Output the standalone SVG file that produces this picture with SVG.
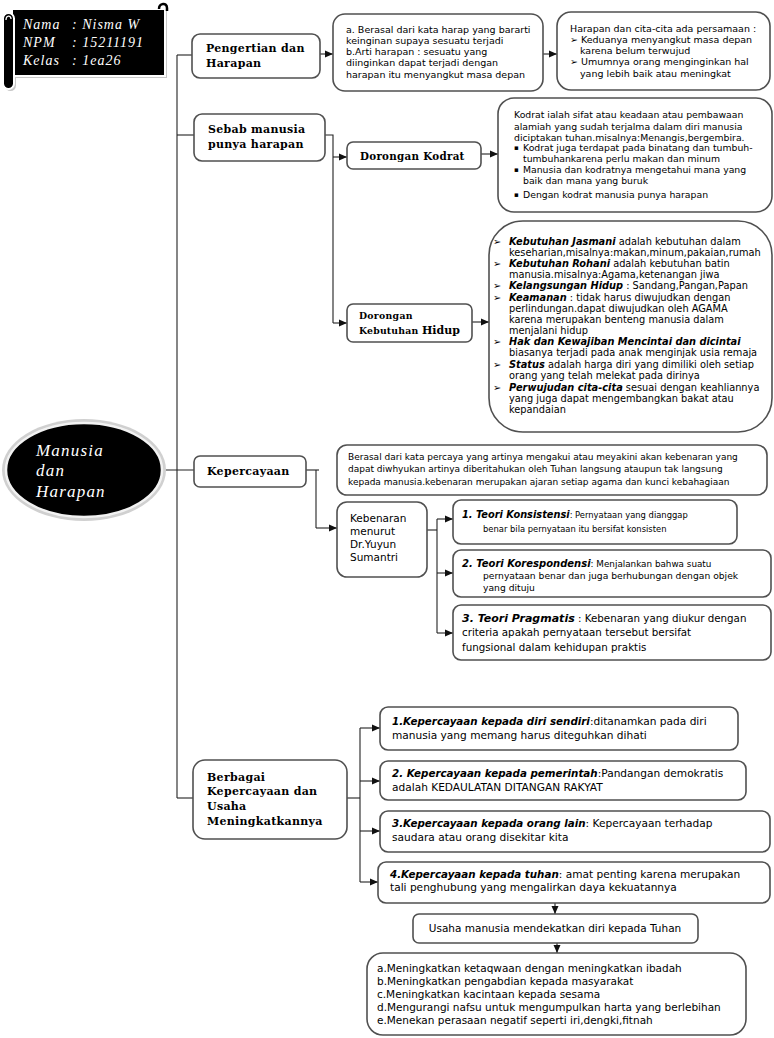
<svg xmlns="http://www.w3.org/2000/svg" width="774" height="1038" viewBox="0 0 774 1038">
<defs>
<style>
.box{fill:#fff;stroke:#505050;stroke-width:1.6}
.ln{fill:none;stroke:#222;stroke-width:1.1}
.ar{fill:none;stroke:#222;stroke-width:1.1;marker-end:url(#ah)}
.hd{font-family:"DejaVu Serif",serif;font-weight:bold;font-size:11px;letter-spacing:0.3px;fill:#000}
.t{font-family:"DejaVu Sans",sans-serif;fill:#000}
.bi{font-weight:bold;font-style:italic}
.sc{font-family:"Liberation Serif",serif;font-style:italic;fill:#fff}
</style>
<marker id="ah" viewBox="0 0 8 8" refX="8" refY="4" markerWidth="8" markerHeight="8" markerUnits="userSpaceOnUse" orient="auto"><path d="M0,0.5 L8,4 L0,7.5 z" fill="#111"/></marker>
</defs>
<rect width="774" height="1038" fill="#fff"/>

<g id="connectors">
<path class="ln" d="M177,55 V798"/>
<path class="ln" d="M160,470 H194"/>
<path class="ln" d="M177,55 H192"/>
<path class="ln" d="M177,135 H194"/>
<path class="ln" d="M177,798 H193"/>
<path class="ar" d="M320,54 H333"/>
<path class="ar" d="M543,54 H557"/>
<path class="ln" d="M325,135 H333 V323"/>
<path class="ar" d="M333,157 H347"/>
<path class="ar" d="M333,323 H347"/>
<path class="ar" d="M481,154 H498"/>
<path class="ar" d="M472,322 H489"/>
<path class="ln" d="M306,470 H319"/>
<path class="ln" d="M316,470 V528"/>
<path class="ar" d="M316,528 H337"/>
<path class="ln" d="M427,530 H437"/>
<path class="ln" d="M437,519 V633"/>
<path class="ar" d="M437,519 H453"/>
<path class="ar" d="M437,573 H453"/>
<path class="ar" d="M437,633 H453"/>
<path class="ln" d="M347,798 H360"/>
<path class="ln" d="M360,728 V882"/>
<path class="ar" d="M360,728 H380"/>
<path class="ar" d="M360,781 H380"/>
<path class="ar" d="M360,831 H380"/>
<path class="ar" d="M360,882 H378"/>
<path class="ar" d="M555,903 V914"/>
<path class="ar" d="M557,943 V953"/>
</g>

<g id="name-card">
<rect x="14" y="11" width="153" height="67" fill="#c8c8c8"/>
<rect x="5" y="15" width="11" height="76" rx="5.5" fill="#c8c8c8"/>
<rect x="12" y="9" width="153" height="67" fill="#000" stroke="#fff" stroke-width="2"/>
<path d="M159,9 C159,3 167,2 167,8 L167,11" fill="none" stroke="#000" stroke-width="2.5"/>
<rect x="3" y="13" width="11" height="76" rx="5.5" fill="#000" stroke="#fff" stroke-width="2"/>
<path d="M6,20 C6,15 11,15 11,19" fill="none" stroke="#fff" stroke-width="1.3"/>
<text class="sc" font-size="14" letter-spacing="1" x="23" y="29">Nama</text>
<text class="sc" font-size="14" letter-spacing="1" x="72" y="29">: Nisma W</text>
<text class="sc" font-size="14" letter-spacing="1" x="23" y="47">NPM</text>
<text class="sc" font-size="14" letter-spacing="1" x="72" y="47">: 15211191</text>
<text class="sc" font-size="14" letter-spacing="1" x="23" y="65">Kelas</text>
<text class="sc" font-size="14" letter-spacing="1" x="72" y="65">: 1ea26</text>
</g>

<g id="root">
<ellipse cx="84" cy="470" rx="82" ry="51" fill="#d0d0d0"/>
<ellipse cx="84" cy="470" rx="78" ry="47" fill="#000" stroke="#f2f2f2" stroke-width="2.5"/>
<text class="sc" font-size="17" letter-spacing="1.2" x="36" y="456">Manusia</text>
<text class="sc" font-size="17" letter-spacing="1.2" x="36" y="476">dan</text>
<text class="sc" font-size="17" letter-spacing="1.2" x="36" y="497">Harapan</text>
</g>

<g id="pengertian">
<rect class="box" x="192" y="34" width="128" height="44" rx="8"/>
<text class="hd" x="206" y="52">Pengertian dan</text>
<text class="hd" x="206" y="67">Harapan</text>
</g>

<g id="pengertian-a">
<rect class="box" x="333" y="14" width="210" height="77" rx="12"/>
<text class="t" font-size="9.5" x="346" y="33">a. Berasal dari kata harap yang bararti</text>
<text class="t" font-size="9.5" x="346" y="44">keinginan supaya sesuatu terjadi</text>
<text class="t" font-size="9.5" x="346" y="55">b.Arti harapan : sesuatu yang</text>
<text class="t" font-size="9.5" x="346" y="66">diinginkan dapat terjadi dengan</text>
<text class="t" font-size="9.5" x="346" y="78">harapan itu menyangkut masa depan</text>
</g>

<g id="pengertian-b">
<rect class="box" x="557" y="12" width="213" height="78" rx="14"/>
<text class="t" font-size="9.5" x="570" y="32">Harapan dan cita-cita ada persamaan :</text>
<text class="t" font-size="9.5" x="570" y="43">➢ Keduanya menyangkut masa depan</text>
<text class="t" font-size="9.5" x="580" y="54">karena belum terwujud</text>
<text class="t" font-size="9.5" x="570" y="65">➢ Umumnya orang menginginkan hal</text>
<text class="t" font-size="9.5" x="580" y="77">yang lebih baik atau meningkat</text>
</g>

<g id="sebab">
<rect class="box" x="194" y="114" width="131" height="47" rx="8"/>
<text class="hd" x="208" y="133">Sebab manusia</text>
<text class="hd" x="208" y="148">punya harapan</text>
</g>

<g id="dorongan-kodrat">
<rect class="box" x="347" y="142" width="134" height="27" rx="6"/>
<text class="hd" style="font-size:10.3px" x="360" y="160">Dorongan Kodrat</text>
</g>

<g id="kodrat">
<rect class="box" x="498" y="98" width="274" height="114" rx="16"/>
<text class="t" font-size="9.3" x="514" y="118">Kodrat ialah sifat atau keadaan atau pembawaan</text>
<text class="t" font-size="9.3" x="514" y="130">alamiah yang sudah terjalma dalam diri manusia</text>
<text class="t" font-size="9.3" x="514" y="141">diciptakan tuhan.misalnya:Menangis,bergembira.</text>
<text class="t" font-size="7" x="514" y="150">▪</text>
<text class="t" font-size="9.3" x="523" y="151">Kodrat juga terdapat pada binatang dan tumbuh-</text>
<text class="t" font-size="9.3" x="523" y="162">tumbuhankarena perlu makan dan minum</text>
<text class="t" font-size="7" x="514" y="172">▪</text>
<text class="t" font-size="9.3" x="523" y="173">Manusia dan kodratnya mengetahui mana yang</text>
<text class="t" font-size="9.3" x="523" y="184">baik dan mana yang buruk</text>
<text class="t" font-size="7" x="514" y="197">▪</text>
<text class="t" font-size="9.3" x="523" y="198">Dengan kodrat manusia punya harapan</text>
</g>

<g id="dorongan-kebutuhan">
<rect class="box" x="347" y="304" width="125" height="38" rx="6"/>
<text class="hd" style="font-size:9.3px" x="359" y="319">Dorongan</text>
<text class="hd" style="font-size:9.3px;letter-spacing:0.2px" x="359" y="334">Kebutuhan <tspan style="font-size:11px;letter-spacing:0">Hidup</tspan></text>
</g>

<g id="kebutuhan">
<rect class="box" x="489" y="221" width="283" height="211" rx="34"/>
<g class="t" font-size="9.8">
<text x="493" y="245">➢</text><text x="509" y="245"><tspan class="bi">Kebutuhan Jasmani</tspan> adalah kebutuhan dalam</text>
<text x="509" y="256">keseharian,misalnya:makan,minum,pakaian,rumah</text>
<text x="493" y="267">➢</text><text x="509" y="267"><tspan class="bi">Kebutuhan Rohani</tspan> adalah kebutuhan batin</text>
<text x="509" y="278">manusia.misalnya:Agama,ketenangan jiwa</text>
<text x="493" y="289">➢</text><text x="509" y="289"><tspan class="bi">Kelangsungan Hidup</tspan> : Sandang,Pangan,Papan</text>
<text x="493" y="301">➢</text><text x="509" y="301"><tspan class="bi">Keamanan</tspan> : tidak harus diwujudkan dengan</text>
<text x="509" y="312">perlindungan.dapat diwujudkan oleh AGAMA</text>
<text x="509" y="323">karena merupakan benteng manusia dalam</text>
<text x="509" y="334">menjalani hidup</text>
<text x="493" y="345">➢</text><text x="509" y="345"><tspan class="bi">Hak dan Kewajiban Mencintai dan dicintai</tspan></text>
<text x="509" y="356">biasanya terjadi pada anak menginjak usia remaja</text>
<text x="493" y="368">➢</text><text x="509" y="368"><tspan class="bi">Status</tspan> adalah harga diri yang dimiliki oleh setiap</text>
<text x="509" y="379">orang yang telah melekat pada dirinya</text>
<text x="493" y="391">➢</text><text x="509" y="391"><tspan class="bi">Perwujudan cita-cita</tspan> sesuai dengan keahliannya</text>
<text x="509" y="402">yang juga dapat mengembangkan bakat atau</text>
<text x="509" y="413">kepandaian</text>
</g>
</g>

<g id="kepercayaan">
<rect class="box" x="194" y="456" width="112" height="31" rx="6"/>
<text class="hd" x="207" y="475">Kepercayaan</text>
</g>

<g id="kepercayaan-desc">
<rect class="box" x="337" y="445" width="430" height="50" rx="10"/>
<text class="t" font-size="9" x="348" y="460">Berasal dari kata percaya yang artinya mengakui atau meyakini akan kebenaran yang</text>
<text class="t" font-size="9" x="348" y="472">dapat diwhyukan artinya diberitahukan oleh Tuhan langsung ataupun tak langsung</text>
<text class="t" font-size="9" x="348" y="485">kepada manusia.kebenaran merupakan ajaran setiap agama dan kunci kebahagiaan</text>
</g>

<g id="kebenaran">
<rect class="box" x="337" y="502" width="90" height="75" rx="10"/>
<text class="t" font-size="10.5" x="350" y="522">Kebenaran</text>
<text class="t" font-size="10.5" x="350" y="535">menurut</text>
<text class="t" font-size="10.5" x="350" y="548">Dr.Yuyun</text>
<text class="t" font-size="10.5" x="350" y="561">Sumantri</text>
</g>

<g id="teori-1">
<rect class="box" x="453" y="500" width="284" height="44" rx="8"/>
<text class="t" x="462" y="518"><tspan class="bi" font-size="9.8">1. Teori Konsistensi</tspan><tspan font-size="8.4">: Pernyataan yang dianggap</tspan></text>
<text class="t" font-size="8.4" x="483" y="532">benar bila pernyataan itu bersifat konsisten</text>
</g>

<g id="teori-2">
<rect class="box" x="453" y="550" width="318" height="47" rx="8"/>
<text class="t" x="462" y="567"><tspan class="bi" font-size="10">2. Teori Korespondensi</tspan><tspan font-size="8.8">: Menjalankan bahwa suatu</tspan></text>
<text class="t" font-size="9.2" x="483" y="579">pernyataan benar dan juga berhubungan dengan objek</text>
<text class="t" font-size="9.2" x="483" y="591">yang dituju</text>
</g>

<g id="teori-3">
<rect class="box" x="453" y="605" width="318" height="55" rx="8"/>
<text class="t" x="462" y="622"><tspan class="bi" font-size="11">3. Teori Pragmatis</tspan><tspan font-size="10.3"> : Kebenaran yang diukur dengan</tspan></text>
<text class="t" font-size="10.3" x="462" y="636">criteria apakah pernyataan tersebut bersifat</text>
<text class="t" font-size="10.3" x="462" y="651">fungsional dalam kehidupan praktis</text>
</g>

<g id="berbagai">
<rect class="box" x="193" y="760" width="154" height="79" rx="12"/>
<text class="hd" x="207" y="781">Berbagai</text>
<text class="hd" x="207" y="795">Kepercayaan dan</text>
<text class="hd" x="207" y="810">Usaha</text>
<text class="hd" x="207" y="825">Meningkatkannya</text>
</g>

<g id="k1">
<rect class="box" x="380" y="707" width="358" height="43" rx="8"/>
<text class="t" font-size="10.6" x="392" y="725"><tspan class="bi" font-size="10.3">1.Kepercayaan kepada diri sendiri</tspan>:ditanamkan pada diri</text>
<text class="t" font-size="10.6" x="392" y="739">manusia yang memang harus diteguhkan dihati</text>
</g>

<g id="k2">
<rect class="box" x="380" y="761" width="366" height="39" rx="8"/>
<text class="t" font-size="10.6" x="392" y="777"><tspan class="bi" font-size="10.3">2. Kepercayaan kepada pemerintah</tspan>:Pandangan demokratis</text>
<text class="t" font-size="10.6" x="392" y="791">adalah KEDAULATAN DITANGAN RAKYAT</text>
</g>

<g id="k3">
<rect class="box" x="380" y="811" width="390" height="41" rx="8"/>
<text class="t" font-size="10.6" x="392" y="827"><tspan class="bi" font-size="10.3">3.Kepercayaan kepada orang lain</tspan>: Kepercayaan terhadap</text>
<text class="t" font-size="10.6" x="392" y="841">saudara atau orang disekitar kita</text>
</g>

<g id="k4">
<rect class="box" x="378" y="862" width="392" height="41" rx="8"/>
<text class="t" font-size="10.6" x="390" y="878"><tspan class="bi" font-size="10.3">4.Kepercayaan kepada tuhan</tspan>: amat penting karena merupakan</text>
<text class="t" font-size="10.6" x="390" y="891">tali penghubung yang mengalirkan daya kekuatannya</text>
</g>

<g id="usaha">
<rect class="box" x="413" y="914" width="285" height="29" rx="6"/>
<text class="t" font-size="10.5" x="555" y="932" text-anchor="middle">Usaha manusia mendekatkan diri kepada Tuhan</text>
</g>

<g id="usaha-list">
<rect class="box" x="367" y="953" width="379" height="82" rx="16"/>
<text class="t" font-size="10.5" x="377" y="972">a.Meningkatkan ketaqwaan dengan meningkatkan ibadah</text>
<text class="t" font-size="10.5" x="377" y="985">b.Meningkatkan pengabdian kepada masyarakat</text>
<text class="t" font-size="10.5" x="377" y="998">c.Meningkatkan kacintaan kepada sesama</text>
<text class="t" font-size="10.5" x="377" y="1011">d.Mengurangi nafsu untuk mengumpulkan harta yang berlebihan</text>
<text class="t" font-size="10.5" x="377" y="1024">e.Menekan perasaan negatif seperti iri,dengki,fitnah</text>
</g>
</svg>
